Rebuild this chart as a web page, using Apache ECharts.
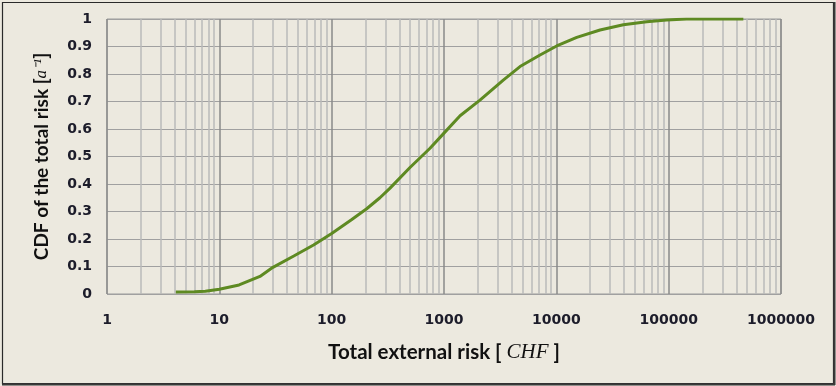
<!DOCTYPE html>
<html>
<head>
<meta charset="utf-8">
<style>
  html, body { margin: 0; padding: 0; background: #ECE9DF; }
  #chart { width: 836px; height: 386px; }
</style>
<script src="https://cdn.jsdelivr.net/npm/echarts@6/dist/echarts.min.js"></script>
</head>
<body>
<div id="chart"></div>
<script>
// Cumulative distribution of the total external risk (CHF), log-scaled x axis
const riskCHF = [4.1, 6, 7.5, 10, 15, 23, 30, 46, 69, 100, 150, 205, 269, 331, 498, 751, 1000, 1390, 2090, 3370, 4750, 7160, 10070, 15200, 24500, 39500, 63700, 96000, 144000, 462000];
const cdfValues = [0.007, 0.008, 0.01, 0.017, 0.033, 0.064, 0.097, 0.138, 0.178, 0.22, 0.27, 0.31, 0.35, 0.385, 0.46, 0.53, 0.585, 0.648, 0.705, 0.778, 0.827, 0.869, 0.902, 0.933, 0.96, 0.979, 0.99, 0.996, 1.0, 1.0];

// x axis decades and the intermediate 2..9 gridlines of each decade
const xMin = 1, xMax = 1000000;
const decadeStarts = [1, 10, 100, 1000, 10000, 100000];
const minorSteps = [2, 3, 4, 5, 6, 7, 8, 9];
const minorGrid = [];
decadeStarts.forEach(d => minorSteps.forEach(k => minorGrid.push(k * d)));

const curve = riskCHF.map((x, i) => [x, cdfValues[i]]);

const chart = echarts.init(document.getElementById('chart'), null, { renderer: 'canvas' });

const tickFont = { fontFamily: 'DejaVu Sans', fontWeight: 'bold', fontSize: 14, color: '#1c1c2a' };

chart.setOption({
  backgroundColor: '#ECE9DF',
  animation: false,
  grid: {
    left: 107, right: 55, top: 19, bottom: 92,
    show: true, borderColor: '#9a9a9a', borderWidth: 1, backgroundColor: 'transparent'
  },
  xAxis: {
    type: 'log',
    logBase: 10,
    min: xMin,
    max: xMax,
    splitNumber: 6,
    axisLine: { show: false },
    axisTick: { show: false },
    axisLabel: Object.assign({ margin: 19, formatter: v => String(Math.round(v)) }, tickFont),
    splitLine: { show: true, lineStyle: { color: '#8a8a8a', width: 1.5 } },
    name: '{b|Total external risk [ }{i|CHF}{b| ]}',
    nameLocation: 'middle',
    nameGap: 48,
    nameTextStyle: {
      rich: {
        b: { fontFamily: 'Lato', fontWeight: 'bold', fontSize: 20.5, color: '#111' },
        i: { fontFamily: 'Liberation Serif', fontStyle: 'italic', fontSize: 21, color: '#111' }
      }
    }
  },
  yAxis: {
    type: 'value',
    min: 0,
    max: 1,
    interval: 0.1,
    axisLine: { show: false },
    axisTick: { show: false },
    axisLabel: Object.assign({ margin: 15 }, tickFont),
    splitLine: { show: true, lineStyle: { color: '#a0a0a0', width: 1 } },
    name: '{b|CDF of the total risk [}{i|a⁻¹}{b|]}',
    nameLocation: 'middle',
    nameRotate: 90,
    nameGap: 56,
    nameTextStyle: {
      rich: {
        b: { fontFamily: 'Lato', fontWeight: 'bold', fontSize: 19, color: '#111' },
        i: { fontFamily: 'Liberation Serif', fontStyle: 'italic', fontSize: 17, color: '#111' }
      }
    }
  },
  series: [
    {
      name: 'minor grid',
      type: 'line',
      data: [],
      silent: true,
      z: 1,
      markLine: {
        silent: true,
        symbol: ['none', 'none'],
        label: { show: false },
        animation: false,
        lineStyle: { type: 'solid', color: '#bababa', width: 1.5 },
        data: minorGrid.map(v => ({ xAxis: v }))
      }
    },
    {
      name: 'CDF',
      type: 'line',
      data: curve,
      z: 5,
      showSymbol: false,
      smooth: false,
      lineStyle: { color: '#5E8A22', width: 3 },
      itemStyle: { color: '#5E8A22' }
    }
  ],
  graphic: [
    { type: 'rect', silent: true, z: 100,
      shape: { x: 2.5, y: 2.5, width: 831, height: 381 },
      style: { fill: 'none', stroke: '#2a2a2a', lineWidth: 1.2 } },
    { type: 'line', silent: true, z: 100,
      shape: { x1: 834.5, y1: 2, x2: 834.5, y2: 385 },
      style: { stroke: '#3a3a3a', lineWidth: 2 } },
    { type: 'line', silent: true, z: 100,
      shape: { x1: 2, y1: 384.5, x2: 835, y2: 384.5 },
      style: { stroke: '#3a3a3a', lineWidth: 2 } }
  ]
});
</script>
</body>
</html>
